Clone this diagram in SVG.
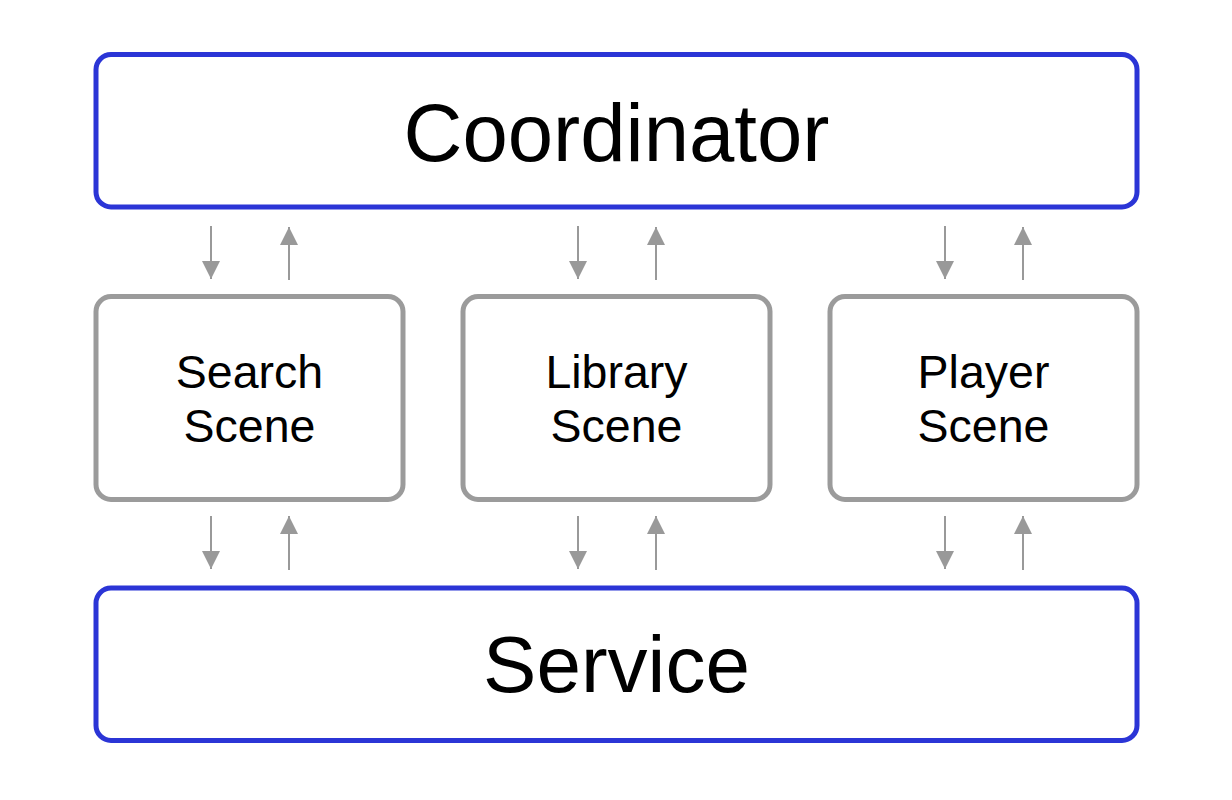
<svg xmlns="http://www.w3.org/2000/svg" width="1232" height="800" viewBox="0 0 1232 800">
  <defs>
    <style>
      .main { fill: #ffffff; stroke: #2b35d6; stroke-width: 5; }
      .scene { fill: #ffffff; stroke: #9b9b9b; stroke-width: 5; }
      .big { font-family: "Liberation Sans", Arial, sans-serif; font-size: 80px; fill: #000; text-anchor: middle; }
      .coord { font-size: 81.5px; }
      .small { font-family: "Liberation Sans", Arial, sans-serif; font-size: 46.5px; fill: #000; text-anchor: middle; }
      .conn { stroke: #999999; stroke-width: 2; fill: none; }
    </style>
    <marker id="ahb" viewBox="0 0 18 18" refX="18" refY="9" markerWidth="18" markerHeight="18" markerUnits="userSpaceOnUse" orient="auto">
      <path d="M0,0 L18,9 L0,18 z" fill="#999999"/>
    </marker>
  </defs>
  <rect width="1232" height="800" fill="#ffffff"/>

  <g id="coordinator">
    <rect class="main" x="96" y="54.5" width="1041" height="152.5" rx="15"/>
    <text class="big coord" x="616.5" y="161">Coordinator</text>
  </g>

  <g id="search-scene">
    <rect class="scene" x="96" y="296.5" width="307" height="203" rx="15"/>
    <text class="small" x="249.5" y="388">Search</text>
    <text class="small" x="249.5" y="442">Scene</text>
  </g>

  <g id="library-scene">
    <rect class="scene" x="463" y="296.5" width="307" height="203" rx="15"/>
    <text class="small" x="616.5" y="388">Library</text>
    <text class="small" x="616.5" y="442">Scene</text>
  </g>

  <g id="player-scene">
    <rect class="scene" x="830" y="296.5" width="307" height="203" rx="15"/>
    <text class="small" x="983.5" y="388">Player</text>
    <text class="small" x="983.5" y="442">Scene</text>
  </g>

  <g id="service">
    <rect class="main" x="96" y="588" width="1041" height="152.5" rx="15"/>
    <text class="big" x="616.5" y="692">Service</text>
  </g>

  <g id="connectors">
    <line class="conn" x1="211" y1="226" x2="211" y2="279" marker-end="url(#ahb)"/>
    <line class="conn" x1="289" y1="280" x2="289" y2="227" marker-end="url(#ahb)"/>
    <line class="conn" x1="578" y1="226" x2="578" y2="279" marker-end="url(#ahb)"/>
    <line class="conn" x1="656" y1="280" x2="656" y2="227" marker-end="url(#ahb)"/>
    <line class="conn" x1="945" y1="226" x2="945" y2="279" marker-end="url(#ahb)"/>
    <line class="conn" x1="1023" y1="280" x2="1023" y2="227" marker-end="url(#ahb)"/>

    <line class="conn" x1="211" y1="516" x2="211" y2="569" marker-end="url(#ahb)"/>
    <line class="conn" x1="289" y1="570" x2="289" y2="516" marker-end="url(#ahb)"/>
    <line class="conn" x1="578" y1="516" x2="578" y2="569" marker-end="url(#ahb)"/>
    <line class="conn" x1="656" y1="570" x2="656" y2="516" marker-end="url(#ahb)"/>
    <line class="conn" x1="945" y1="516" x2="945" y2="569" marker-end="url(#ahb)"/>
    <line class="conn" x1="1023" y1="570" x2="1023" y2="516" marker-end="url(#ahb)"/>
  </g>
</svg>
